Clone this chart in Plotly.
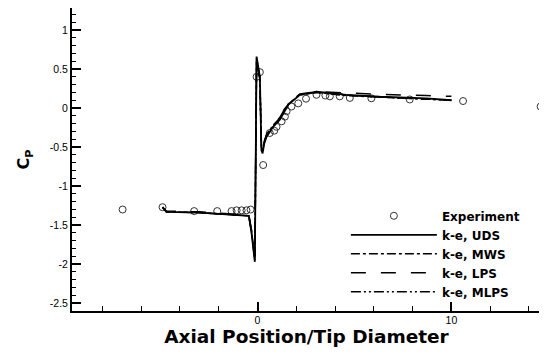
import plotly.graph_objects as go

# Experimental data
exp_x = [-6.96, -4.9, -3.27, -2.08, -1.34, -1.08, -0.82, -0.57, -0.36,
         -0.05, 0.12, 0.29, 0.63, 0.86, 0.98, 1.24, 1.41, 1.5, 1.75, 2.1,
         2.5, 3.04, 3.5, 3.73, 4.24, 4.76, 5.87, 7.85, 10.6, 14.6]
exp_y = [-1.30, -1.27, -1.32, -1.32, -1.32, -1.31, -1.31, -1.31, -1.30,
         0.40, 0.46, -0.73, -0.32, -0.29, -0.24, -0.17, -0.11, -0.04, 0.02, 0.06,
         0.12, 0.17, 0.16, 0.15, 0.15, 0.13, 0.125, 0.11, 0.09, 0.02]

# CFD results (k-e model, different schemes)
cfd_x = [-4.9, -4.7, -3.0, -1.6, -0.45, -0.31, -0.14, -0.05, 0.03, 0.12,
         0.2, 0.26, 0.35, 0.46, 0.8, 1.15, 1.58, 2.18, 3.04, 4.59, 6.3, 8.7, 10.0]
uds_y = [-1.27, -1.33, -1.34, -1.36, -1.38, -1.6, -1.97, 0.66, 0.55, 0.40,
         -0.54, -0.58, -0.45, -0.37, -0.24, -0.15, 0.04, 0.17, 0.21, 0.17, 0.145, 0.125, 0.10]
mws_y = [-1.27, -1.33, -1.34, -1.36, -1.38, -1.58, -1.92, 0.62, 0.52, 0.38,
         -0.50, -0.55, -0.43, -0.35, -0.22, -0.13, 0.05, 0.17, 0.20, 0.16, 0.14, 0.12, 0.10]
lps_y = [-1.27, -1.32, -1.33, -1.35, -1.37, -1.56, -1.90, 0.60, 0.50, 0.36,
         -0.50, -0.54, -0.42, -0.34, -0.21, -0.12, 0.06, 0.18, 0.21, 0.19, 0.175, 0.16, 0.15]
mlps_y = [-1.27, -1.33, -1.34, -1.36, -1.38, -1.59, -1.95, 0.64, 0.54, 0.39,
          -0.52, -0.56, -0.44, -0.36, -0.23, -0.14, 0.05, 0.17, 0.20, 0.165, 0.14, 0.12, 0.10]

y_ticks = [1, 0.5, 0, -0.5, -1, -1.5, -2, -2.5]
y_ticktext = ["1", "0.5", "0", "-0.5", "-1", "-1.5", "-2", "-2.5"]
x_ticks = [0, 10]
x_ticktext = ["0", "10"]

fig = go.Figure()
fig.add_trace(go.Scatter(x=exp_x, y=exp_y, mode="markers", name="Experiment",
                         marker=dict(symbol="circle-open", size=7, color="#333333",
                                     line=dict(width=1)),
                         cliponaxis=False))
fig.add_trace(go.Scatter(x=cfd_x, y=uds_y, mode="lines", name="k-e, UDS",
                         line=dict(color="black", width=1.8, dash="solid")))
fig.add_trace(go.Scatter(x=cfd_x, y=mws_y, mode="lines", name="k-e, MWS",
                         line=dict(color="black", width=1.5, dash="dashdot")))
fig.add_trace(go.Scatter(x=cfd_x, y=lps_y, mode="lines", name="k-e, LPS",
                         line=dict(color="black", width=1.5, dash="longdash")))
fig.add_trace(go.Scatter(x=cfd_x, y=mlps_y, mode="lines", name="k-e, MLPS",
                         line=dict(color="black", width=1.5, dash="10px,3px,2px,3px,2px,3px")))

font_family = "Liberation Sans, Arial, Helvetica, sans-serif"
bold_family = "DejaVu Sans, Liberation Sans, Arial, sans-serif"

# page has an 8px body margin, so the figure is sized to fit the window
fig.update_layout(
    width=539, height=347,
    margin=dict(l=64, r=6, t=0, b=44),
    paper_bgcolor="white", plot_bgcolor="white",
    font=dict(family=font_family, color="black", size=10),
    showlegend=True,
    legend=dict(x=0.584, y=0.362, xanchor="left", yanchor="top",
                bgcolor="rgba(0,0,0,0)", borderwidth=0,
                font=dict(size=12, family=bold_family, weight="bold"),
                itemwidth=86, tracegroupgap=0),
)
fig.update_xaxes(
    range=[-9.57, 14.62], showgrid=False, zeroline=False, automargin=False,
    showline=True, linewidth=2, linecolor="black", mirror=True,
    tickmode="array", tickvals=x_ticks, ticktext=x_ticktext,
    ticks="inside", ticklen=9, tickwidth=2, tickcolor="black",
    tickfont=dict(size=10.5), ticklabelstandoff=-2,
    minor=dict(dtick=2, tick0=0, ticks="inside", ticklen=5, tickwidth=1, tickcolor="black"),
    title=dict(text="<b>Axial Position/Tip Diameter</b>",
               font=dict(size=18.5, family=bold_family), standoff=0),
)
fig.update_yaxes(
    range=[-2.6, 1.282], showgrid=False, zeroline=False, automargin=False,
    showline=True, linewidth=2, linecolor="black", mirror=True,
    tickmode="array", tickvals=y_ticks, ticktext=y_ticktext,
    ticks="inside", ticklen=9, tickwidth=2, tickcolor="black",
    tickfont=dict(size=10.5),
    minor=dict(dtick=0.1, tick0=0, ticks="inside", ticklen=4, tickwidth=1, tickcolor="black"),
    title=dict(text="<b>C<sub>P</sub></b>", font=dict(size=16, family=bold_family), standoff=16),
)

fig.write_html("out.html")
